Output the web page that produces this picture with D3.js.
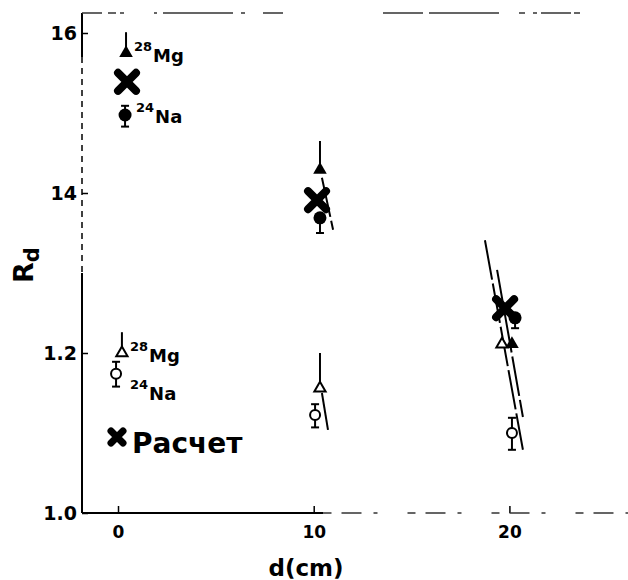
<!DOCTYPE html>
<html>
<head>
<meta charset="utf-8">
<script src="https://cdn.jsdelivr.net/npm/d3@7"></script>
<style>
  body { margin: 0; background: #fff; }
  text { font-family: "DejaVu Sans", sans-serif; font-weight: bold; fill: #000; }
</style>
</head>
<body>
<div id="plot"></div>
<script>
// data (d in cm, Rd)
var yTicks = [1.0, 1.2, 1.4, 1.6];
var yTickLabels = ["1.0", "1.2", "14", "16"];
var xTicks = [0, 10, 20];
var xTickLabels = ["0", "10", "20"];

// calculation (big X)
var calcD = [0.46, 10.17, 19.78];
var calcR = [1.539, 1.391, 1.256];

// 28Mg filled triangles + upper error
var mgD = [0.41, 10.32, 20.13];
var mgR = [1.575, 1.429, 1.211];
var mgHi = [1.601, 1.465, 1.211];

// 24Na filled circles
var naD = [0.36, 10.32, 20.29];
var naR = [1.4975, 1.369, 1.244];
var naLo = [1.483, 1.35, 1.231];
var naHi = [1.509, 1.369, 1.244];

// 28Mg open triangles
var mgOpenD = [0.2, 10.32, 19.62];
var mgOpenR = [1.20, 1.156, 1.211];
var mgOpenHi = [1.226, 1.20, 1.211];

// 24Na open circles
var naOpenD = [-0.1, 10.07, 20.13];
var naOpenR = [1.174, 1.1225, 1.10];
var naOpenLo = [1.158, 1.107, 1.079];
var naOpenHi = [1.189, 1.136, 1.119];

// hand drawn fit lines
var fitLines = [
  [[10.42, 1.419], [10.99, 1.354]],
  [[10.42, 1.150], [10.73, 1.104]],
  [[18.75, 1.341], [20.69, 1.079]],
  [[19.37, 1.304], [20.69, 1.120]]
];

var width = 628, height = 580;

var svg = d3.select("#plot").append("svg")
  .attr("width", width)
  .attr("height", height);

var x = d3.scaleLinear().domain([-1.84, 26.06]).range([82, 628]);
var y = d3.scaleLinear().domain([1.0, 1.625]).range([513, 13]);

// axes
var yAxis = svg.append("g")
  .attr("transform", "translate(" + x(-1.84) + ",0)")
  .call(d3.axisLeft(y).tickValues(yTicks)
    .tickFormat(function (d, i) { return yTickLabels[i]; })
    .tickSize(-6).tickPadding(5));
yAxis.select(".domain").remove();
yAxis.selectAll("line").attr("stroke", "#000").attr("stroke-width", 1.5);
yAxis.selectAll("text").style("font-size", "19px").style("font-family", "DejaVu Sans").style("font-weight", "bold");

var xAxis = svg.append("g")
  .attr("transform", "translate(0," + y(1.0) + ")")
  .call(d3.axisBottom(x).tickValues(xTicks)
    .tickFormat(function (d, i) { return xTickLabels[i]; })
    .tickSize(-7).tickPadding(13));
xAxis.select(".domain").remove();
xAxis.selectAll("line").attr("stroke", "#000").attr("stroke-width", 1.5);
xAxis.selectAll("text").style("font-size", "17px").style("font-family", "DejaVu Sans").style("font-weight", "bold");

// frame lines (scan is broken / dashed in places)
var x0 = x(-1.84), yTop = y(1.625), yBot = y(1.0);
svg.append("line").attr("x1", x0).attr("x2", x0).attr("y1", yTop).attr("y2", y(1.57))
  .attr("stroke", "#000").attr("stroke-width", 2);
svg.append("line").attr("x1", x0).attr("x2", x0).attr("y1", y(1.57)).attr("y2", y(1.3))
  .attr("stroke", "#000").attr("stroke-width", 1.5).attr("stroke-dasharray", "6,5");
svg.append("line").attr("x1", x0).attr("x2", x0).attr("y1", y(1.3)).attr("y2", yBot)
  .attr("stroke", "#000").attr("stroke-width", 2);
svg.append("line").attr("x1", x0).attr("x2", width).attr("y1", yTop).attr("y2", yTop)
  .attr("stroke", "#333").attr("stroke-width", 1.5)
  .attr("stroke-dasharray", "20,6,8,4,4,30,3,6,70,8,4,18,20,100,40,6,70");
svg.append("line").attr("x1", x0).attr("x2", x(10.5)).attr("y1", yBot).attr("y2", yBot)
  .attr("stroke", "#000").attr("stroke-width", 2);
svg.append("line").attr("x1", x(10.5)).attr("x2", width).attr("y1", yBot).attr("y2", yBot)
  .attr("stroke", "#333").attr("stroke-width", 1.5).attr("stroke-dasharray", "8,10,20,12,4,30");

// axis titles
svg.append("text").attr("x", 306).attr("y", 576)
  .attr("text-anchor", "middle").style("font-size", "23px").text("d(cm)");
var rd = svg.append("text")
  .attr("transform", "translate(33,265) rotate(-90)")
  .attr("text-anchor", "middle").style("font-size", "27px");
rd.append("tspan").text("R");
rd.append("tspan").attr("dy", 6).style("font-size", "21px").text("d");

// fit lines
fitLines.forEach(function (l) {
  svg.append("line")
    .attr("x1", x(l[0][0])).attr("y1", y(l[0][1]))
    .attr("x2", x(l[1][0])).attr("y2", y(l[1][1]))
    .attr("stroke", "#000").attr("stroke-width", 2)
    .attr("stroke-dasharray", "40,4");
});

// error bars
function errBar(d, lo, hi, cap) {
  svg.append("line").attr("x1", x(d)).attr("x2", x(d)).attr("y1", y(lo)).attr("y2", y(hi))
    .attr("stroke", "#000").attr("stroke-width", 2);
  if (cap) {
    [lo, hi].forEach(function (v) {
      svg.append("line").attr("x1", x(d) - 4).attr("x2", x(d) + 4).attr("y1", y(v)).attr("y2", y(v))
        .attr("stroke", "#000").attr("stroke-width", 2);
    });
  }
}
mgD.forEach(function (d, i) { errBar(d, mgR[i], mgHi[i], false); });
naD.forEach(function (d, i) { errBar(d, naLo[i], naHi[i], true); });
mgOpenD.forEach(function (d, i) { errBar(d, mgOpenR[i], mgOpenHi[i], false); });
naOpenD.forEach(function (d, i) { errBar(d, naOpenLo[i], naOpenHi[i], true); });

// filled circles 24Na
svg.selectAll(".na").data(naD).enter().append("circle")
  .attr("cx", function (d) { return x(d); })
  .attr("cy", function (d, i) { return y(naR[i]); })
  .attr("r", 6.5).attr("fill", "#000");

// filled triangles 28Mg
svg.selectAll(".mg").data(mgD).enter().append("path")
  .attr("d", d3.symbol().type(d3.symbolTriangle).size(80)())
  .attr("transform", function (d, i) { return "translate(" + x(d) + "," + y(mgR[i]) + ")"; })
  .attr("fill", "#000");

// open circles
svg.selectAll(".naOpen").data(naOpenD).enter().append("circle")
  .attr("cx", function (d) { return x(d); })
  .attr("cy", function (d, i) { return y(naOpenR[i]); })
  .attr("r", 5).attr("fill", "#fff").attr("stroke", "#000").attr("stroke-width", 2);

// open triangles
svg.selectAll(".mgOpen").data(mgOpenD).enter().append("path")
  .attr("d", d3.symbol().type(d3.symbolTriangle).size(55)())
  .attr("transform", function (d, i) { return "translate(" + x(d) + "," + y(mgOpenR[i]) + ")"; })
  .attr("fill", "#fff").attr("stroke", "#000").attr("stroke-width", 2);

// calculation crosses
function cross(cx, cy, r, w) {
  svg.append("path")
    .attr("d", "M" + (cx - r) + "," + (cy - r) + "L" + (cx + r) + "," + (cy + r) +
               "M" + (cx - r) + "," + (cy + r) + "L" + (cx + r) + "," + (cy - r))
    .attr("stroke", "#000").attr("stroke-width", w).attr("stroke-linecap", "round");
}
calcD.forEach(function (d, i) { cross(x(d), y(calcR[i]), 9, 8); });

// in-plot labels
function isoLabel(lx, ly, mass, el) {
  var t = svg.append("text").attr("x", lx).attr("y", ly);
  t.append("tspan").attr("dy", -11).style("font-size", "13px").text(mass);
  t.append("tspan").attr("dy", 11).attr("dx", 1).style("font-size", "18px").text(el);
}
isoLabel(134, 62, "28", "Mg");
isoLabel(136, 123, "24", "Na");
isoLabel(130, 362, "28", "Mg");
isoLabel(130, 400, "24", "Na");

// legend
cross(117, 437, 6, 7);
svg.append("text").attr("x", 132).attr("y", 453).style("font-size", "28px").text("Расчет");
</script>
</body>
</html>
